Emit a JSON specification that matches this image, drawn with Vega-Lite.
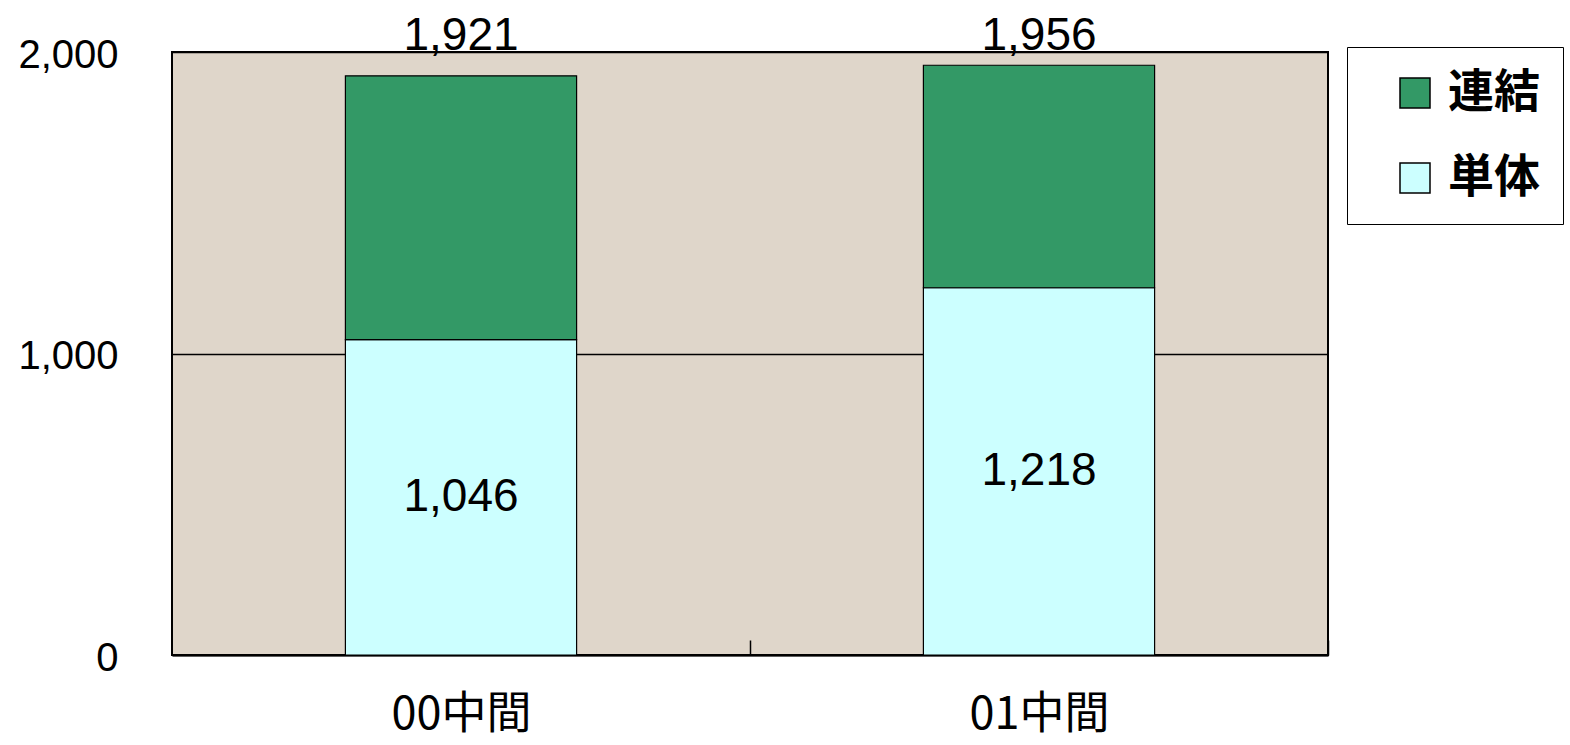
{
  "$schema": "https://vega.github.io/schema/vega-lite/v6.json",
  "width": 1156,
  "height": 603,
  "autosize": {"type": "none"},
  "padding": {"left": 172, "top": 52, "right": 242, "bottom": 90},
  "background": "white",
  "config": {
    "view": {"fill": "#DFD6CA", "stroke": "black", "strokeWidth": 2},
    "font": "Liberation Sans",
    "legend": {"strokeColor": "black", "fillColor": "white", "padding": 23}
  },
  "datasets": {
    "main": [
      {"period": "00中間", "series": "単体", "value": 1046, "ord": 0},
      {"period": "00中間", "series": "連結", "value": 875, "ord": 1},
      {"period": "01中間", "series": "単体", "value": 1218, "ord": 0},
      {"period": "01中間", "series": "連結", "value": 738, "ord": 1}
    ],
    "totals": [
      {"period": "00中間", "total": 1921},
      {"period": "01中間", "total": 1956}
    ]
  },
  "encoding": {
    "x": {
      "field": "period",
      "type": "nominal",
      "sort": null,
      "scale": {"paddingInner": 0.6, "paddingOuter": 0.3},
      "axis": {
        "title": null,
        "labelAngle": 0,
        "tickOffset": 289,
        "labelOffset": -289,
        "tickSize": -15,
        "tickColor": "black",
        "tickWidth": 1.5,
        "domainColor": "black",
        "domainWidth": 2,
        "labelFont": "Noto Sans CJK JP",
        "labelFontSize": 45,
        "labelColor": "black",
        "labelPadding": 52,
        "labelBaseline": "top",
        "grid": false
      }
    }
  },
  "layer": [
    {
      "data": {"name": "main"},
      "mark": {"type": "bar", "stroke": "black", "strokeWidth": 1.2},
      "encoding": {
        "y": {
          "field": "value",
          "type": "quantitative",
          "stack": "zero",
          "scale": {"domain": [0, 2000]},
          "axis": {
            "title": null,
            "values": [0, 1000, 2000],
            "format": ",d",
            "grid": true,
            "gridColor": "black",
            "gridWidth": 1.5,
            "ticks": false,
            "domain": false,
            "labelFont": "Liberation Sans",
            "labelFontSize": 40,
            "labelColor": "black",
            "labelPadding": 54,
            "labelOffset": 3
          }
        },
        "color": {
          "field": "series",
          "type": "nominal",
          "scale": {"domain": ["連結", "単体"], "range": ["#339966", "#CCFFFF"]},
          "legend": {
            "title": null,
            "orient": "none",
            "legendX": 1175,
            "legendY": -5,
            "symbolType": "square",
            "symbolSize": 900,
            "symbolStrokeColor": "black",
            "symbolStrokeWidth": 1.5,
            "symbolOpacity": 1,
            "labelFont": "Noto Sans CJK JP",
            "labelFontSize": 46,
            "labelFontWeight": "bold",
            "labelColor": "black",
            "labelOffset": 10,
            "rowPadding": 39,
            "symbolOffset": 22
          }
        },
        "order": {"field": "ord", "type": "quantitative"}
      }
    },
    {
      "data": {"name": "totals"},
      "mark": {"type": "text", "baseline": "alphabetic", "dy": -2, "fontSize": 46, "color": "black", "font": "Liberation Sans"},
      "encoding": {
        "y": {"datum": 2000, "type": "quantitative", "scale": {"domain": [0, 2000]}, "axis": null},
        "text": {"field": "total", "type": "quantitative", "format": ",d"}
      }
    },
    {
      "data": {"name": "main"},
      "transform": [{"filter": "datum.series == '単体'"}],
      "mark": {"type": "text", "baseline": "middle", "fontSize": 46, "color": "black", "font": "Liberation Sans"},
      "encoding": {
        "y": {"field": "value", "type": "quantitative", "scale": {"domain": [0, 4000]}, "axis": null},
        "text": {"field": "value", "type": "quantitative", "format": ",d"}
      }
    }
  ],
  "resolve": {"scale": {"y": "independent"}}
}
